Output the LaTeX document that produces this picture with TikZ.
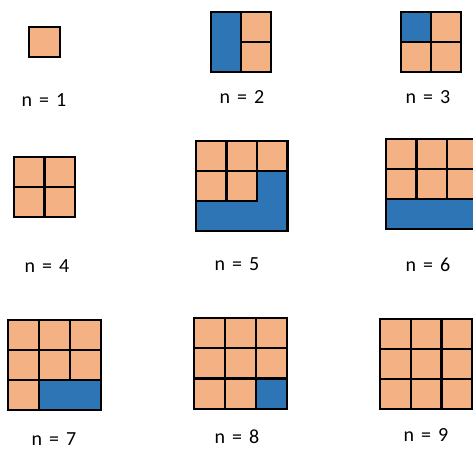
\documentclass[tikz,border=0pt]{standalone}
\usepackage{fontspec}
\setmainfont{Carlito}
\definecolor{orng}{HTML}{F4B183}
\definecolor{blu}{HTML}{2E75B6}
\begin{document}
\begin{tikzpicture}[x=1pt,y=-1pt,
  oc/.style={fill=orng,draw=black,line width=2.3pt},
  bc/.style={fill=blu,draw=black,line width=2.3pt},
  lbl/.style={font=\fontsize{20}{24}\selectfont,inner sep=0pt}]
\useasboundingbox (0,0) rectangle (473,448);
% n=1
\draw[oc] (29,27) rectangle (60,57);
\node[lbl] (l1) at (44,100) {n\hspace{0.35em}=\hspace{0.35em}1};
% n=2
\begin{scope}[shift={(211,12)}]
\draw[bc] (0,0) rectangle (30,60);
\draw[oc] (30,0) rectangle (60,30);
\draw[oc] (30,30) rectangle (60,60);
\end{scope}
\node[lbl] (l2) at (242,97) {n\hspace{0.35em}=\hspace{0.35em}2};
% n=3
\begin{scope}[shift={(401,12)}]
\draw[bc] (0,0) rectangle (30,30);
\draw[oc] (30,0) rectangle (60,30);
\draw[oc] (0,30) rectangle (30,60);
\draw[oc] (30,30) rectangle (60,60);
\end{scope}
\node[lbl] (l3) at (428,97) {n\hspace{0.35em}=\hspace{0.35em}3};
% n=4
\begin{scope}[shift={(14,157)}]
\foreach \i in {0,1} \foreach \j in {0,1}
  \draw[oc] (\i*30.5,\j*30) rectangle ++(30.5,30);
\end{scope}
\node[lbl] (l4) at (47,266) {n\hspace{0.35em}=\hspace{0.35em}4};
% n=5
\begin{scope}[shift={(196,141)}]
\foreach \i in {0,1,2} \draw[oc] (\i*30.5,0) rectangle ++(30.5,30);
\foreach \i in {0,1} \draw[oc] (\i*30.5,30) rectangle ++(30.5,30);
\draw[bc] (61,30) -- (91.5,30) -- (91.5,90) -- (0,90) -- (0,60) -- (61,60) -- cycle;
\end{scope}
\node[lbl] (l5) at (237,264) {n\hspace{0.35em}=\hspace{0.35em}5};
% n=6
\begin{scope}[shift={(386,139)}]
\foreach \i in {0,1,2} \foreach \j in {0,1}
  \draw[oc] (\i*30.5,\j*30) rectangle ++(30.5,30);
\draw[bc] (0,60) rectangle (91.5,90);
\end{scope}
\node[lbl] (l6) at (428,265) {n\hspace{0.35em}=\hspace{0.35em}6};
% n=7
\begin{scope}[shift={(8,320)}]
\foreach \i in {0,1,2} \foreach \j in {0,1}
  \draw[oc] (\i*31,\j*30) rectangle ++(31,30);
\draw[oc] (0,60) rectangle (31,90);
\draw[bc] (31,60) rectangle (93,90);
\end{scope}
\node[lbl] (l7) at (54,439) {n\hspace{0.35em}=\hspace{0.35em}7};
% n=8
\begin{scope}[shift={(194,318)}]
\foreach \i in {0,1,2} \foreach \j in {0,1,2}
  \draw[oc] (\i*31,\j*30.3) rectangle ++(31,30.3);
\draw[bc] (62,60.6) rectangle ++(31,30.3);
\end{scope}
\node[lbl] (l8) at (237,437) {n\hspace{0.35em}=\hspace{0.35em}8};
% n=9
\begin{scope}[shift={(380,319)}]
\foreach \i in {0,1,2} \foreach \j in {0,1,2}
  \draw[oc] (\i*30.7,\j*30) rectangle ++(30.7,30);
\end{scope}
\node[lbl] (l9) at (426,435) {n\hspace{0.35em}=\hspace{0.35em}9};
\end{tikzpicture}
\end{document}
